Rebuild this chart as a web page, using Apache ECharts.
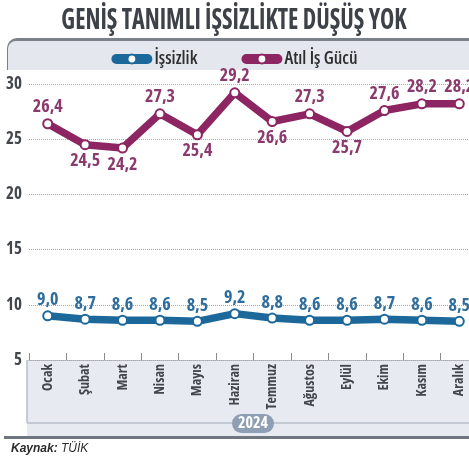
<!DOCTYPE html>
<html>
<head>
<meta charset="utf-8">
<script src="https://cdn.jsdelivr.net/npm/echarts@6/dist/echarts.min.js"></script>
<style>
  html, body { margin: 0; padding: 0; background: #fff; }
  #main { width: 469px; height: 458px; }
</style>
</head>
<body>
<div id="main"></div>
<script>
  // aylar
  var months = ['Ocak', 'Şubat', 'Mart', 'Nisan', 'Mayıs', 'Haziran', 'Temmuz', 'Ağustos', 'Eylül', 'Ekim', 'Kasım', 'Aralık'];
  var issizlik = [9.0, 8.7, 8.6, 8.6, 8.5, 9.2, 8.8, 8.6, 8.6, 8.7, 8.6, 8.5];
  var atilIsGucu = [26.4, 24.5, 24.2, 27.3, 25.4, 29.2, 26.6, 27.3, 25.7, 27.6, 28.2, 28.2];
  // etiket yerleri (üst / alt)
  var atilLabelPos = ['top', 'bottom', 'bottom', 'top', 'bottom', 'top', 'bottom', 'top', 'bottom', 'top', 'top', 'top'];
  var yTicks = [5, 10, 15, 20, 25, 30];

  var FONT = '"Open Sans", sans-serif';
  var BOLD = 'bold condensed';   // dar yazi
  var BLUE = '#1d689b';
  var PURPLE = '#8c2562';

  function fmt(p) {
    return p.value.toFixed(1).replace('.', ',');
  }

  var chart = echarts.init(document.getElementById('main'));
  chart.setOption({
    animation: false,
    backgroundColor: '#fff',
    graphic: [
      // baslik
      {
        type: 'text', x: 234, y: 21, scaleX: 0.86, z: 10,
        style: {
          text: 'GENİŞ TANIMLI İŞSİZLİKTE DÜŞÜŞ YOK',
          x: 0, y: 0, align: 'center', verticalAlign: 'middle',
          font: 'bold condensed 28px ' + FONT, fill: '#3d4148'
        }
      },
      // legend bandi
      { type: 'rect', z: -10, shape: { x: 7, y: 38, width: 475, height: 32, r: [10, 0, 0, 0] }, style: { fill: '#7b818b' } },
      { type: 'rect', z: -9, shape: { x: 8, y: 41, width: 475, height: 29, r: [8, 0, 0, 0] }, style: { fill: '#e4e7ee' } },
      // alt bant
      { type: 'rect', z: -10, shape: { x: 27, y: 360, width: 450, height: 76 }, style: { fill: '#e7eaf0' } },
      { type: 'line', z: -5, shape: { x1: 27, y1: 360, x2: 27, y2: 423 }, style: { stroke: '#b7bec9', lineWidth: 1.5 } },
      { type: 'line', z: -5, shape: { x1: 27, y1: 423, x2: 469, y2: 423 }, style: { stroke: '#b7bec9', lineWidth: 1.5 } },
      { type: 'rect', z: -4, shape: { x: 232, y: 414, width: 42, height: 19, r: 9.5 }, style: { fill: '#8e9eb4' } },
      {
        type: 'text', z: -3, x: 253, y: 423.5,
        style: { text: '2024', x: 0, y: 0, align: 'center', verticalAlign: 'middle', font: 'bold condensed 16px ' + FONT, fill: '#fff' }
      },
      { type: 'line', z: -5, shape: { x1: 4, y1: 437.5, x2: 469, y2: 437.5 }, style: { stroke: '#6f7680', lineWidth: 3 } },
      {
        type: 'text', x: 11, y: 449,
        style: {
          text: '{b|Kaynak:} {n|TÜİK}', x: 0, y: 0, verticalAlign: 'middle',
          rich: {
            b: { fontFamily: 'Liberation Sans, sans-serif', fontStyle: 'italic', fontWeight: 'bold', fontSize: 12, fill: '#2b2b2b' },
            n: { fontFamily: 'Liberation Sans, sans-serif', fontStyle: 'italic', fontSize: 12, fill: '#2b2b2b' }
          }
        }
      }
    ],
    legend: {
      top: 45,
      left: 'center',
      itemWidth: 31,
      itemHeight: 11,
      itemGap: 44,
      textStyle: { fontFamily: FONT, fontWeight: '600 condensed', fontSize: 18, color: '#2e2e2e', padding: [0, 0, 0, 2] },
      lineStyle: { width: 10, cap: 'round' },
      data: ['İşsizlik', 'Atıl İş Gücü']
    },
    // sag kenar resimde kesik, grid disari tasiyor
    grid: { left: 29, width: 449, top: 84, bottom: 98, outerBoundsMode: 'none' },
    xAxis: {
      type: 'category',
      data: months,
      boundaryGap: true,
      axisLine: { show: true, lineStyle: { color: '#a9a9a9', type: 'dotted', width: 1 } },
      axisTick: { show: true, inside: true, length: 7, lineStyle: { color: '#8a8a8a' } },
      axisLabel: { rotate: 90, margin: 4, fontFamily: FONT, fontWeight: BOLD, fontSize: 14, color: '#43464c', interval: 0 }
    },
    yAxis: {
      type: 'value',
      min: yTicks[0],
      max: yTicks[yTicks.length - 1],
      interval: 5,
      axisLine: { show: false },
      axisTick: { show: false },
      axisLabel: { margin: 7, fontFamily: FONT, fontWeight: BOLD, fontSize: 17, color: '#43464c' },
      splitLine: { show: true, lineStyle: { color: '#a9a9a9', type: 'dotted', width: 1 } }
    },
    series: [
      {
        name: 'İşsizlik',
        type: 'line',
        data: issizlik,
        color: BLUE,
        symbol: 'emptyCircle',
        symbolSize: 9,
        lineStyle: { width: 7.5, color: BLUE, join: 'round', cap: 'round' },
        itemStyle: { color: BLUE, borderWidth: 2 },
        label: {
          show: true, position: 'top', distance: 1, formatter: fmt,
          fontFamily: FONT, fontWeight: BOLD, fontSize: 18, color: '#2e6d9c'
        },
        z: 3
      },
      {
        name: 'Atıl İş Gücü',
        type: 'line',
        color: PURPLE,
        data: atilIsGucu.map(function (v, i) {
          return { value: v, label: { position: atilLabelPos[i] } };
        }),
        symbol: 'emptyCircle',
        symbolSize: 9,
        lineStyle: { width: 7.5, color: PURPLE, join: 'round', cap: 'round' },
        itemStyle: { color: PURPLE, borderWidth: 2 },
        label: {
          show: true, distance: 2, formatter: fmt,
          fontFamily: FONT, fontWeight: BOLD, fontSize: 18, color: '#8a3a6c'
        },
        z: 3
      }
    ]
  });
</script>
</body>
</html>
